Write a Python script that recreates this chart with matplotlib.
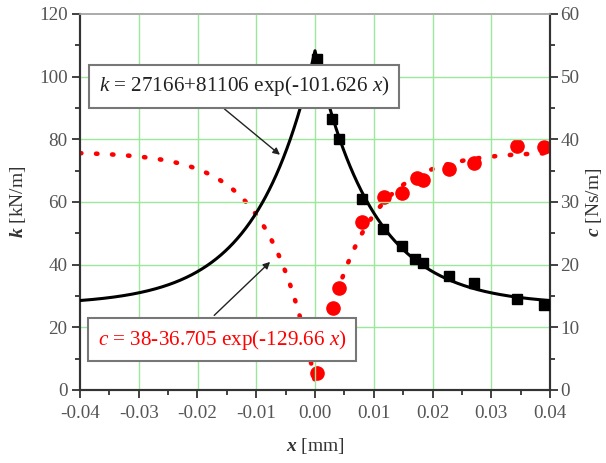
import numpy as np
import matplotlib
matplotlib.use("Agg")
import matplotlib.pyplot as plt
from matplotlib.ticker import MultipleLocator, FormatStrFormatter

plt.rcParams['font.family'] = ['Liberation Serif', 'DejaVu Serif']
plt.rcParams['mathtext.fontset'] = 'custom'
plt.rcParams['mathtext.rm'] = 'Liberation Serif'
plt.rcParams['mathtext.it'] = 'Liberation Serif:italic'
plt.rcParams['mathtext.bf'] = 'Liberation Serif:bold'
plt.rcParams['mathtext.bfit'] = 'Liberation Serif:italic:bold'

# measured stiffness k [kN/m]
k_x = [0.0003, 0.0029, 0.0041, 0.0080, 0.0116, 0.0148, 0.0170, 0.0184, 0.0228, 0.0271, 0.0344, 0.0390]
k_val = [105.6, 86.5, 80.1, 61.0, 51.4, 46.0, 41.8, 40.5, 36.4, 34.1, 29.0, 27.1]

# measured damping c [Ns/m]
c_x = [0.0004, 0.0030, 0.0041, 0.0080, 0.0118, 0.0148, 0.0173, 0.0184, 0.0228, 0.0271, 0.0344, 0.0390]
c_val = [2.7, 13.1, 16.3, 26.8, 30.8, 31.4, 33.8, 33.5, 35.2, 36.2, 38.9, 38.8]

# fitted model parameters (as printed on the chart)
k_A, k_B, k_C = 27166.0, 81106.0, 101.626
c_A, c_B, c_C = 38.0, 36.705, 129.66

xs = np.linspace(-0.04, 0.04, 801)
k_fit = (k_A + k_B * np.exp(-k_C * np.abs(xs))) / 1000.0
c_fit = c_A - c_B * np.exp(-c_C * np.abs(xs))

fig = plt.figure(figsize=(6.06, 4.63), dpi=100)
ax = fig.add_axes([80/606, 1-390/463, 470/606, 376/463])
ax2 = ax.twinx()

ax.set_xlim(-0.04, 0.04)
ax.set_ylim(0, 120)
ax2.set_ylim(0, 60)

grid_c = '#9be89b'
for v in np.arange(-0.03, 0.04, 0.01):
    ax.axvline(v, color=grid_c, lw=1.0, zorder=0)
for v in np.arange(20, 120, 20):
    ax.axhline(v, color=grid_c, lw=1.0, zorder=0)

ax.plot(xs, k_fit, color='black', lw=2.2, zorder=3)
ax.plot(k_x, k_val, linestyle='none', marker='s', ms=7.5, color='black', zorder=4)

ax2.plot(xs, c_fit, color='red', lw=3.3, linestyle=(0, (0.3, 3.2)),
         dash_capstyle='round', zorder=3)
ax2.plot(c_x, c_val, linestyle='none', marker='o', ms=9.5, color='red', zorder=4)

ax.set_zorder(ax2.get_zorder() + 1)
ax.patch.set_visible(False)

tick_c = '#555555'
spine_c = '#333333'
for a in (ax, ax2):
    for s in ('left', 'right', 'bottom'):
        a.spines[s].set_color(spine_c)
        a.spines[s].set_linewidth(1.5)
    a.spines['top'].set_color('#aaaaaa')
    a.spines['top'].set_linewidth(1.2)
    a.tick_params(which='both', direction='out', color=spine_c, width=1.3,
                  labelsize=13.8, labelcolor=tick_c)
    a.tick_params(which='major', length=6)
    a.tick_params(which='minor', length=3.5)

ax.xaxis.set_major_locator(MultipleLocator(0.01))
ax.xaxis.set_minor_locator(MultipleLocator(0.005))
ax.xaxis.set_major_formatter(FormatStrFormatter('%.2f'))
ax.yaxis.set_major_locator(MultipleLocator(20))
ax.yaxis.set_minor_locator(MultipleLocator(10))
ax2.yaxis.set_major_locator(MultipleLocator(10))
ax2.yaxis.set_minor_locator(MultipleLocator(5))
ax.tick_params(axis='x', pad=5)
ax.tick_params(axis='y', pad=3)
ax2.tick_params(axis='y', pad=1.5)

ax.set_xlabel(r'$\mathbfit{x}$ [mm]', fontsize=14, color='#333333', labelpad=10)
ax.set_ylabel(r'$\mathbfit{k}$ [kN/m]', fontsize=14, color='#333333', labelpad=8)
ax2.set_ylabel(r'$\mathbfit{c}$ [Ns/m]', fontsize=14, color='#333333', labelpad=3)

box = dict(boxstyle='square,pad=0.45', facecolor='white', edgecolor='#777777', lw=1.5)
ax.annotate('', xy=(-0.0056, 74.5), xytext=(-0.0158, 90.3),
            arrowprops=dict(arrowstyle='-|>', color='#222222', lw=1.0, mutation_scale=10),
            zorder=5)
ax.text(-0.0121, 97, r'$k$ = 27166+81106 exp(-101.626 $x$)', fontsize=15.2,
        ha='center', va='center', bbox=box, zorder=6, color='#222222')

ax.annotate('', xy=(-0.0073, 41.5), xytext=(-0.0175, 23.2),
            arrowprops=dict(arrowstyle='-|>', color='#222222', lw=1.0, mutation_scale=10),
            zorder=5)
ax.text(-0.0158, 16, r'$c$ = 38-36.705 exp(-129.66 $x$)', fontsize=15.2,
        ha='center', va='center', bbox=box, zorder=6, color='red')

fig.savefig('out.png', dpi=100)
